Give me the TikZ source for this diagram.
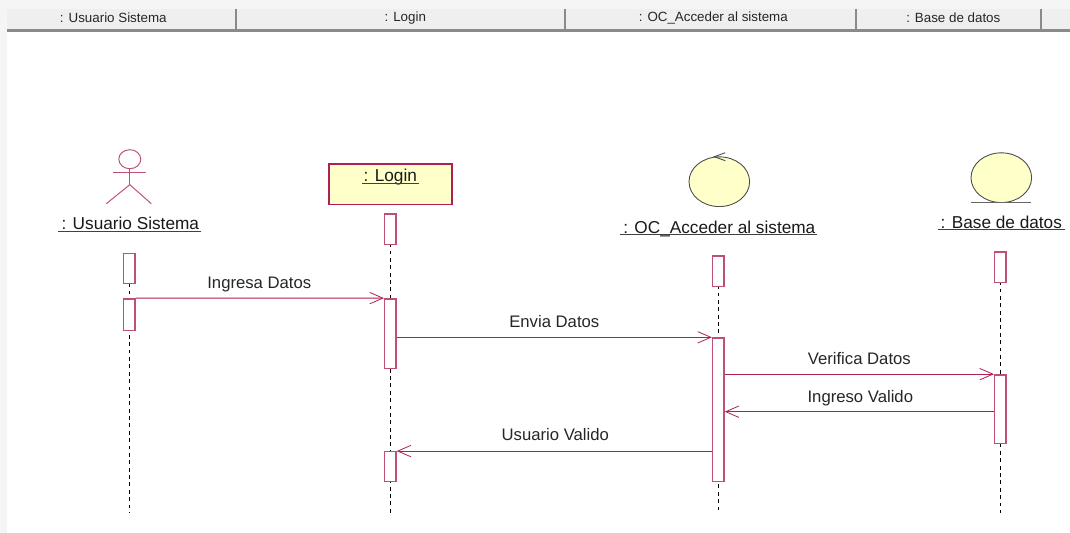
\documentclass[tikz,border=0pt]{standalone}
\usepackage{fontspec}
\setmainfont{Liberation Sans}
\usetikzlibrary{arrows.meta,shapes.geometric}
\definecolor{rosered}{HTML}{AE1F55}
\definecolor{roselight}{HTML}{BE4F78}
\definecolor{paleyellow}{HTML}{FFFFC9}
\definecolor{barbg}{HTML}{EFEFEF}
\definecolor{barline}{HTML}{8A8A8A}
\tikzset{
  headtxt/.style={inner sep=0pt,font=\fontsize{7.6}{9}\selectfont,text=black!85},
  barsep/.style={draw=barline,line width=1.1pt},
  objtxt/.style={inner sep=0pt,font=\fontsize{9.8}{12}\selectfont,text=black!90},
  objline/.style={draw=black!75,line width=0.6pt},
  msgtxt/.style={inner sep=0pt,font=\fontsize{9.5}{12}\selectfont,text=black!85},
  msg/.style={draw=rosered,line width=0.6pt,-{Straight Barb[length=7.5pt,width=6.5pt,line width=0.45pt]}},
  bar/.style={draw=roselight,fill=white,line width=0.8pt,minimum width=6.5pt,inner sep=0pt},
  life/.style={draw=black,line width=0.7pt,dash pattern=on 2.2pt off 2pt},
  actor/.style={draw=roselight,line width=0.55pt},
  robust/.style={draw=black!70,fill=paleyellow,line width=0.5pt,ellipse,minimum width=34.5pt,minimum height=28.3pt,inner sep=0pt}
}
\begin{document}
\begin{tikzpicture}[x=0.02cm,y=-0.02cm]
\useasboundingbox (-0.3,-0.7) rectangle (1069.7,532.3);
\fill[black!4] (-0.3,-0.7) rectangle (1069.7,532.3);
\fill[white] (7,30) rectangle (1069.7,532.3);
\fill[barbg] (7,8) rectangle (1069.7,29);
\draw[barsep,line width=1.6pt] (7,29.5) -- (1069.7,29.5);
\draw[barsep] (236,8) -- (236,29);
\draw[barsep] (565,8) -- (565,29);
\draw[barsep] (856,8) -- (856,29);
\draw[barsep] (1041,8) -- (1041,29);
\node[headtxt] (hUsuario) at (113,17.5) {: Usuario Sistema};
\node[headtxt] (hLogin) at (405,17.5) {: Login};
\node[headtxt] (hControl) at (713,17.5) {: OC\_Acceder al sistema};
\node[headtxt] (hBase) at (953,17.5) {: Base de datos};

\draw[actor] (129.5,158.5) circle[x radius=11,y radius=9.5];
\draw[actor] (113,172) -- (146,172);
\draw[actor] (129.5,168) -- (129.5,184);
\draw[actor] (106,203) -- (129.5,184) -- (151,203);
\node[objtxt] (nUsuario) at (130,223) {: Usuario Sistema};
\draw[objline] (58,231) -- (201,231);

\node[draw=rosered,fill=paleyellow,line width=0.8pt,minimum width=70pt,minimum height=23.2pt,inner sep=0pt] (boxLogin) at (390,183.5) {};
\node[objtxt] (nLogin) at (390,176) {: Login};
\draw[objline] (362,182.5) -- (419,182.5);

\node[robust] (control) at (719,181) {};
\draw[black!70,line width=0.5pt] (725,152) -- (714,156) -- (725,160);
\node[objtxt] (nControl) at (719,228) {: OC\_Acceder al sistema};
\draw[objline] (620,234) -- (817,234);

\node[robust] (entity) at (1001,177) {};
\draw[black!60,line width=0.7pt] (971,202) -- (1031,202);
\node[objtxt] (nBase) at (1001,222) {: Base de datos};
\draw[objline] (938,229) -- (1065,229);

\coordinate (endA) at (129,512);
\coordinate (endB) at (390,512);
\coordinate (endC) at (718,512);
\coordinate (endD) at (1000,512);
\draw[life] (129,253) -- (endA);
\draw[life] (390,213) -- (endB);
\draw[life] (718,255) -- (endC);
\draw[life] (1000,251) -- (endD);

\node[bar,minimum height=17pt] (a1) at (129,268) {};
\node[bar,minimum height=18.1pt] (a2) at (129,314) {};
\node[bar,minimum height=17.5pt] (b1) at (390,228.5) {};
\node[bar,minimum height=39.7pt] (b2) at (390,333) {};
\node[bar,minimum height=17pt] (b3) at (390,466) {};
\node[bar,minimum height=17.5pt] (c1) at (718,270.5) {};
\node[bar,minimum height=81.6pt] (c2) at (718,409) {};
\node[bar,minimum height=17.5pt] (d1) at (1000,266.5) {};
\node[bar,minimum height=39.1pt] (d2) at (1000,408.5) {};

\coordinate (valido) at (d2.west |- 0,411);
\draw[msg] (a2.north east) -- (b2.north west);
\draw[msg] (b2.east |- c2.north) -- (c2.north west);
\draw[msg] (c2.east |- d2.north) -- (d2.north west);
\draw[msg] (valido) -- (c2.east |- valido);
\draw[msg] (c2.west |- b3.north) -- (b3.north east);
\node[msgtxt] (mIngresa) at (259,283.5) {Ingresa Datos};
\node[msgtxt] (mEnvia) at (554,321) {Envia Datos};
\node[msgtxt] (mVerifica) at (859,358) {Verifica Datos};
\node[msgtxt] (mValido) at (860,397.5) {Ingreso Valido};
\node[msgtxt] (mUsuario) at (555,434) {Usuario Valido};
\end{tikzpicture}
\end{document}
